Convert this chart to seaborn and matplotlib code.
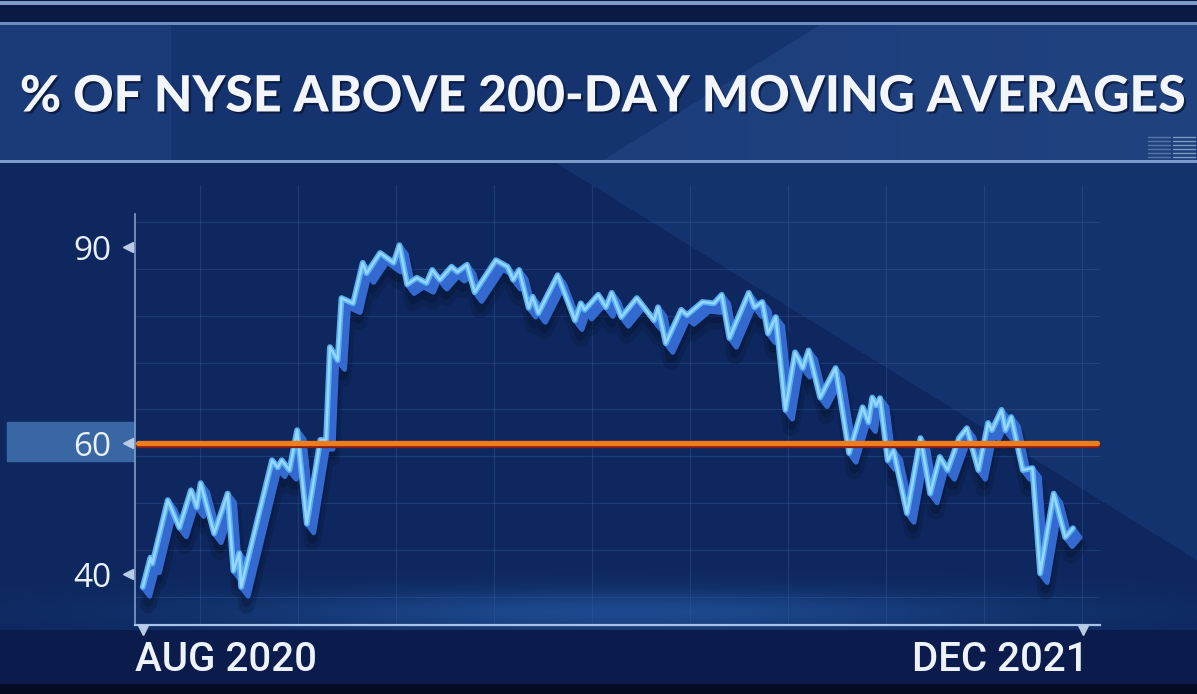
import numpy as np
import pandas as pd
import seaborn as sns
import matplotlib.pyplot as plt
import matplotlib.patheffects as pe
import matplotlib.transforms as mtransforms
from matplotlib.patches import Rectangle

# values
TITLE = "% OF NYSE ABOVE 200-DAY MOVING AVERAGES"

dates = [
    "2020-08-01", "2020-08-05", "2020-08-06", "2020-08-14", "2020-08-20", "2020-08-26",
    "2020-08-29", "2020-08-31", "2020-09-07", "2020-09-14", "2020-09-17", "2020-09-20",
    "2020-09-21", "2020-10-07", "2020-10-10", "2020-10-12", "2020-10-16", "2020-10-20",
    "2020-10-25", "2020-11-01", "2020-11-04", "2020-11-06", "2020-11-10", "2020-11-12",
    "2020-11-18", "2020-11-23", "2020-11-25", "2020-12-02", "2020-12-09", "2020-12-12",
    "2020-12-16", "2020-12-21", "2020-12-26", "2020-12-29", "2021-01-02", "2021-01-08",
    "2021-01-11", "2021-01-16", "2021-01-20", "2021-01-31", "2021-02-06", "2021-02-09",
    "2021-02-12", "2021-02-17", "2021-02-19", "2021-02-22", "2021-03-04", "2021-03-13",
    "2021-03-16", "2021-03-18", "2021-03-25", "2021-03-29", "2021-04-01", "2021-04-06",
    "2021-04-14", "2021-04-23", "2021-04-25", "2021-04-29", "2021-05-07", "2021-05-10",
    "2021-05-18", "2021-05-24", "2021-05-28", "2021-06-01", "2021-06-11", "2021-06-14",
    "2021-06-18", "2021-06-21", "2021-06-25", "2021-06-30", "2021-07-05", "2021-07-09",
    "2021-07-12", "2021-07-18", "2021-07-26", "2021-08-02", "2021-08-09", "2021-08-12",
    "2021-08-14", "2021-08-16", "2021-08-18", "2021-08-22", "2021-08-25", "2021-09-01",
    "2021-09-08", "2021-09-13", "2021-09-18", "2021-09-22", "2021-09-28", "2021-10-02",
    "2021-10-08", "2021-10-13", "2021-10-15", "2021-10-20", "2021-10-22", "2021-10-25",
    "2021-10-31", "2021-11-05", "2021-11-09", "2021-11-16", "2021-11-22", "2021-11-26",
]
pct_above = [
    38.0, 42.5, 41.6, 51.3, 47.1, 52.8,
    50.2, 53.9, 46.2, 52.3, 40.5, 43.2,
    38.0, 57.4, 56.3, 57.4, 55.9, 62.0,
    47.7, 60.5, 60.5, 74.7, 72.7, 82.2,
    81.4, 87.6, 86.0, 89.1, 87.6, 90.3,
    84.3, 85.3, 84.5, 86.5, 85.0, 87.0,
    86.2, 87.3, 83.1, 88.0, 87.0, 85.0,
    86.5, 80.7, 82.4, 79.9, 85.7, 78.8,
    81.4, 80.4, 82.7, 80.8, 83.0, 79.3,
    82.2, 78.8, 80.8, 75.3, 80.4, 79.6,
    81.6, 81.4, 82.7, 76.1, 83.0, 80.8,
    81.6, 76.8, 79.3, 65.1, 73.9, 71.5,
    74.2, 67.0, 71.5, 58.5, 65.5, 63.2,
    67.0, 65.8, 66.9, 57.4, 58.9, 49.3,
    60.8, 52.3, 57.9, 55.9, 60.8, 62.3,
    55.9, 63.1, 62.0, 65.1, 62.0, 64.0,
    55.9, 56.2, 40.1, 52.3, 45.6, 47.0,
]
y_ticks = [40, 60, 90]
threshold = 60
x_labels = ["AUG 2020", "DEC 2021"]
x_label_dates = ["2020-08-01", "2021-12-01"]

df = pd.DataFrame({"date": pd.to_datetime(dates), "pct": pct_above})

W, H = 1197, 694
sns.set_style("dark")
fig = plt.figure(figsize=(W / 100, H / 100), dpi=100)


def rgb(h):
    h = h.lstrip("#")
    return np.array([int(h[i:i + 2], 16) for i in (0, 2, 4)]) / 255.0


# --- background (broadcast-style panel) ---
yy, xx = np.mgrid[0:H, 0:W]
img = np.zeros((H, W, 3))
img[:] = rgb("#0e285f")
# lighter wedge on the upper right of the main panel
wedge = (yy < 165 + 0.62 * (xx - 560)) & (yy > 162)
img[wedge] = rgb("#14336e")
# glow near the x axis
glow = np.exp(-((yy - 612) / 22.0) ** 2) * np.exp(-((xx - 620) / 380.0) ** 2)
img += glow[..., None] * (rgb("#1d4a8e") - rgb("#0e285f"))
# banner
ban = (yy >= 24) & (yy < 162)
t = xx / W
ban_col = (rgb("#1a3a78")[None, None, :] * (1 - t[..., None]) + rgb("#20427f")[None, None, :] * t[..., None])
img[ban] = ban_col[ban]
img[ban & (xx > 170) & (xx < 820 - 1.6 * (yy - 24))] = rgb("#15336f")
# top strip and bottom strip
img[yy < 24] = rgb("#0a1a44")
img[(yy >= 1) & (yy < 5)] = rgb("#7f9cc6")
img[(yy >= 22) & (yy < 25)] = rgb("#6a8cc0")
img[(yy >= 160) & (yy < 163)] = rgb("#7d9bca")
img[yy >= 630] = rgb("#0b1c4c")
img[yy >= 684] = rgb("#050b22")
img = np.clip(img, 0, 1)

bg = fig.add_axes([0, 0, 1, 1], zorder=0)
bg.imshow(img, extent=[0, W, H, 0], aspect="auto")
bg.set_xlim(0, W)
bg.set_ylim(H, 0)
bg.axis("off")

# highlight box behind the 60 label
bg.add_patch(Rectangle((7, 422), 127, 39, color="#3867a3", zorder=2))

# small equalizer icon at banner's right edge
for k in range(6):
    bg.plot([1148, 1170], [157 - k * 4, 157 - k * 4], color="#7f9cc6", lw=1, alpha=0.6)
    bg.plot([1173, 1195], [157 - k * 4, 157 - k * 4], color="#a8c0e0", lw=1, alpha=0.7)

bg.text(W / 2 + 4, 97, TITLE, ha="center", va="center", color="#f2f6fb",
        fontsize=36, fontweight="black", family=["Lato", "DejaVu Sans"],
        path_effects=[pe.withSimplePatchShadow(offset=(1.5, -1.5), shadow_rgbFace="#061232", alpha=0.7)])

# --- chart axes ---
ax = fig.add_axes([135 / W, 1 - 625 / H, 965 / W, 440 / H], zorder=1)
ax.set_facecolor("none")

# faint background grid (axes fractions)
for gx in np.arange(0.067, 1.0, 0.1016):
    ax.plot([gx, gx], [0, 1], transform=ax.transAxes, color="#34599a", lw=0.8, alpha=0.4, zorder=1)
for gy in np.arange(0.064, 1.0, 0.1065):
    ax.plot([0, 1], [gy, gy], transform=ax.transAxes, color="#34599a", lw=0.8, alpha=0.4, zorder=1)

# 3D ribbon look: soft drop shadow, blue extrusion, bright top edge
extrude = [pe.SimpleLineShadow(offset=(4, -13), shadow_color="#020818", alpha=0.18, linewidth=12),
           pe.SimpleLineShadow(offset=(4, -11), shadow_color="#020818", alpha=0.2, linewidth=7)]
extrude += [pe.SimpleLineShadow(offset=(0.42 * i, -0.55 * i), shadow_color="#3469d0", alpha=1.0, linewidth=3.5)
            for i in range(1, 13)]
extrude += [pe.Stroke(linewidth=4.2, foreground="#58b0f4"), pe.Normal()]

sns.lineplot(data=df, x="date", y="pct", ax=ax, color="#96d7ff", linewidth=1.8,
             errorbar=None, path_effects=extrude, zorder=3)

ax.axhline(threshold, xmin=0.003, xmax=0.997, color="#f07d1c", lw=3.8, zorder=4,
           path_effects=[pe.SimpleLineShadow(offset=(0, -1.6), shadow_color="#8c1d12", alpha=1.0),
                         pe.Normal()])

ax.set_xlim(pd.Timestamp("2020-07-28"), pd.Timestamp("2021-12-10"))
ax.set_ylim(32.2, 99.5)

ax.set_yticks(y_ticks)
ax.set_yticklabels([str(v) for v in y_ticks])
ax.tick_params(axis="y", length=0, pad=17, labelsize=24, labelcolor="#eaf0f8")
for lab in ax.get_yticklabels():
    lab.set_family(["Open Sans", "DejaVu Sans"])
ax.set_xticks([])
ax.set_xlabel("")
ax.set_ylabel("")
ax.grid(False)

# tick triangles
ytrans = mtransforms.blended_transform_factory(ax.transAxes, ax.transData)
ax.plot([-0.007] * len(y_ticks), y_ticks, ls="none", marker="<", ms=7, color="#b9cce6",
        transform=ytrans, clip_on=False, zorder=5)
xtrans = mtransforms.blended_transform_factory(ax.transData, ax.transAxes)
ax.plot(pd.to_datetime(x_label_dates), [-0.012, -0.012], ls="none", marker="v", ms=7,
        color="#b9cce6", transform=xtrans, clip_on=False, zorder=5)

ax.text(0.0, -0.036, x_labels[0], transform=ax.transAxes, ha="left", va="top", fontsize=29,
        fontweight="medium", color="#eef3fa", family=["Roboto", "DejaVu Sans"])
ax.text(0.9876, -0.036, x_labels[1], transform=ax.transAxes, ha="right", va="top", fontsize=29,
        fontweight="medium", color="#eef3fa", family=["Roboto", "DejaVu Sans"])

for side in ["top", "right"]:
    ax.spines[side].set_visible(False)
ax.spines["left"].set_color("#7f9cc8")
ax.spines["left"].set_linewidth(1.2)
ax.spines["left"].set_bounds(32.2, 95)
ax.spines["bottom"].set_color("#a9c3e6")
ax.spines["bottom"].set_linewidth(1.6)

fig.savefig("out.png", dpi=100)
